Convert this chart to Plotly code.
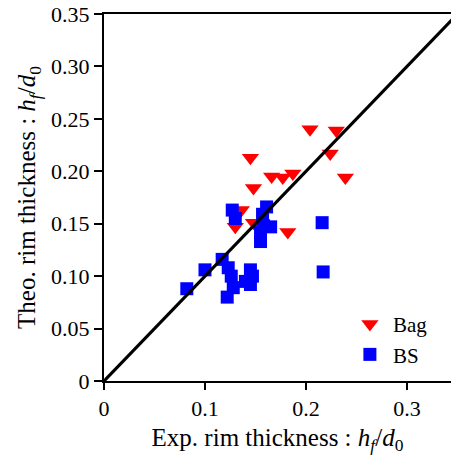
import plotly.graph_objects as go

bag_x = [0.204, 0.230, 0.224, 0.145, 0.148, 0.166, 0.177, 0.187, 0.239, 0.136, 0.130, 0.148, 0.182]
bag_y = [0.240, 0.239, 0.217, 0.213, 0.184, 0.195, 0.194, 0.198, 0.194, 0.163, 0.147, 0.151, 0.142]

bs_x = [0.082, 0.100, 0.117, 0.123, 0.126, 0.128, 0.122, 0.145, 0.147, 0.140, 0.145,
        0.127, 0.130, 0.161, 0.157, 0.165, 0.155, 0.155, 0.216, 0.217, 0.158]
bs_y = [0.088, 0.106, 0.116, 0.108, 0.100, 0.089, 0.080, 0.106, 0.100, 0.095, 0.092,
        0.163, 0.155, 0.166, 0.159, 0.147, 0.142, 0.133, 0.151, 0.104, 0.148]

diag = [0.0, 0.35]

x_ticks = [0, 0.1, 0.2, 0.3]
x_labels = ["0", "0.1", "0.2", "0.3"]
y_ticks = [0, 0.05, 0.10, 0.15, 0.20, 0.25, 0.30, 0.35]
y_labels = ["0", "0.05", "0.10", "0.15", "0.20", "0.25", "0.30", "0.35"]

fig = go.Figure()
fig.add_trace(go.Scatter(x=bag_x, y=bag_y, mode="markers", name="Bag",
                         marker=dict(symbol="triangle-down", size=15, color="#ff0000",
                                     line=dict(width=0))))
fig.add_trace(go.Scatter(x=bs_x, y=bs_y, mode="markers", name="BS",
                         marker=dict(symbol="square", size=13, color="#0000ff",
                                     line=dict(width=0))))
fig.add_trace(go.Scatter(x=diag, y=diag, mode="lines", showlegend=False,
                         line=dict(color="black", width=3.2)))

font = "Liberation Serif"
fig.update_layout(
    width=451, height=462,
    margin=dict(l=104, r=0, t=14, b=81),
    plot_bgcolor="white", paper_bgcolor="white",
    font=dict(family=font, size=21, color="black"),
    showlegend=True,
    legend=dict(x=0.70, y=0.21, xanchor="left", yanchor="top",
                bgcolor="rgba(0,0,0,0)", font=dict(size=21, family=font),
                itemwidth=36, tracegroupgap=0),
    xaxis=dict(range=[0, 0.3436], tickvals=x_ticks, ticktext=x_labels,
               showgrid=False, zeroline=False, showline=True, linecolor="black",
               linewidth=2, mirror=True, ticks="outside", ticklen=7, tickwidth=2,
               tickcolor="black", tickfont=dict(size=22, family=font),
               title=dict(text="Exp. rim thickness : <i>h</i><sub><i>f</i></sub>/<i>d</i><sub>0</sub>",
                          font=dict(size=25, family=font), standoff=8)),
    yaxis=dict(range=[0, 0.35], tickvals=y_ticks, ticktext=y_labels,
               showgrid=False, zeroline=False, showline=True, linecolor="black",
               linewidth=2, mirror=False, ticks="outside", ticklen=8, tickwidth=2,
               tickcolor="black", tickfont=dict(size=22, family=font),
               title=dict(text="Theo. rim thickness : <i>h</i><sub><i>f</i></sub>/<i>d</i><sub>0</sub>",
                          font=dict(size=25, family=font), standoff=8)),
)

fig.write_html("out.html")
